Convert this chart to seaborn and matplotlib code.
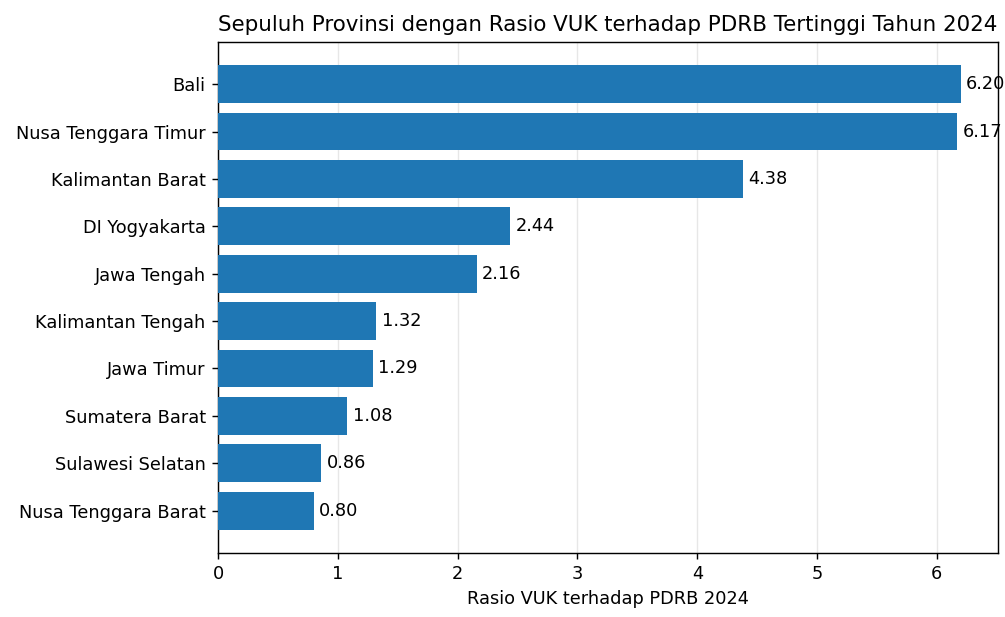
import seaborn as sns
import matplotlib.pyplot as plt
import pandas as pd

provinsi = ['Bali', 'Nusa Tenggara Timur', 'Kalimantan Barat', 'DI Yogyakarta',
            'Jawa Tengah', 'Kalimantan Tengah', 'Jawa Timur', 'Sumatera Barat',
            'Sulawesi Selatan', 'Nusa Tenggara Barat']
rasio = [6.20, 6.17, 4.38, 2.44, 2.16, 1.32, 1.29, 1.08, 0.86, 0.80]

df = pd.DataFrame({'Provinsi': provinsi, 'Rasio': rasio})

DPI = 128
fig, ax = plt.subplots(figsize=(1005 / DPI, 617 / DPI), dpi=DPI)
fig.subplots_adjust(left=0.217, right=0.993, top=0.932, bottom=0.104)

sns.barplot(data=df, y='Provinsi', x='Rasio', color='#1f77b4', saturation=1,
            width=0.8, ax=ax, zorder=3)

# label tiap bar
for c in ax.containers:
    ax.bar_label(c, fmt='%.2f', padding=3, fontsize=10)

ax.set_ylim(len(provinsi) - 1 + 0.89, -0.89)
ax.set_xlim(0, max(rasio) * 1.05)
ax.grid(axis='x', alpha=0.3, zorder=0)
ax.set_axisbelow(True)
ax.tick_params(labelsize=10)
ax.set_ylabel('')
ax.set_xlabel('Rasio VUK terhadap PDRB 2024', fontsize=10)
ax.set_title('Sepuluh Provinsi dengan Rasio VUK terhadap PDRB Tertinggi Tahun 2024', fontsize=12)

plt.savefig('out.png', dpi=DPI)
